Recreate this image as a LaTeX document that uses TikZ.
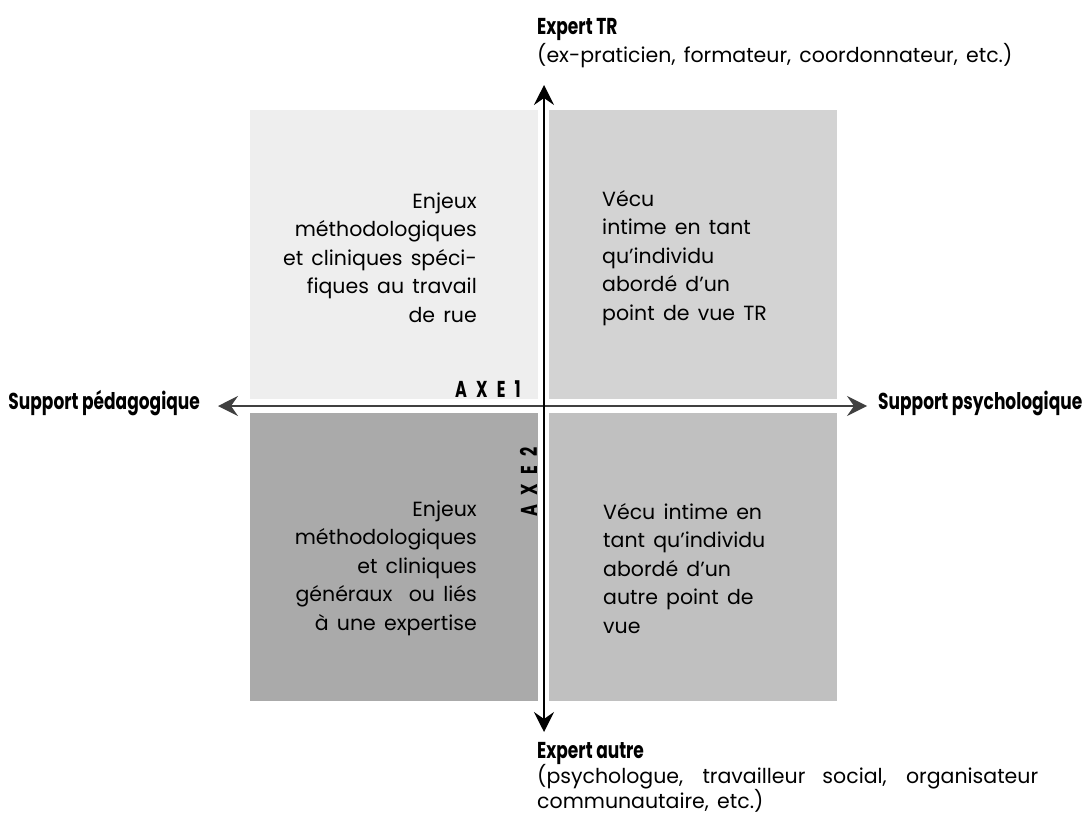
\documentclass[tikz,border=0pt]{standalone}
\usepackage{fontspec}
\setmainfont{Poppins}[WordSpace=1.5]
\newfontfamily\headfont{Poppins}[FakeStretch=0.74]
\newfontfamily\axefont{Poppins}[FakeStretch=0.7,LetterSpace=40]
\usetikzlibrary{arrows.meta}
\definecolor{paleTL}{RGB}{238,238,238}
\definecolor{greyTR}{RGB}{211,211,211}
\definecolor{greyBL}{RGB}{170,170,170}
\definecolor{greyBR}{RGB}{192,192,192}

\begin{document}
\begin{tikzpicture}[x=1pt,y=-1pt,
  quad/.style={rectangle,minimum width=288pt,minimum height=288pt,inner sep=0pt},
  txt/.style={font=\fontsize{20.5}{28.5}\selectfont,inner sep=0pt},
  head/.style={font=\headfont\bfseries\fontsize{23}{27}\selectfont,inner sep=0pt},
  axe/.style={font=\axefont\bfseries\fontsize{23}{27}\selectfont,inner sep=0pt},
  axis/.style={line width=1.4pt,{Stealth[length=20pt,width=20pt,inset=7pt]}-{Stealth[length=20pt,width=20pt,inset=7pt]}}]
\useasboundingbox (0,0) rectangle (1083,824);

% quadrants
\node[quad,fill=paleTL] (tl) at (394,254.5) {};
\node[quad,fill=greyTR] (tr) at (692.5,254.5) {};
\node[quad,fill=greyBL] (bl) at (394,556.5) {};
\node[quad,fill=greyBR] (br) at (692.5,556.5) {};

\node[txt,align=right,anchor=base east] (tltext) at (477,322) {Enjeux\\méthodologiques\\et cliniques spéci-\\fiques au travail\\de rue};
\node[txt,align=left,anchor=base west] (trtext) at (602,320) {Vécu\\intime en tant\\qu’individu\\abordé d’un\\point de vue TR};
\node[txt,align=right,anchor=base east] (bltext) at (477,630) {Enjeux\\méthodologiques\\et cliniques\\généraux~ ou liés\\à une expertise};
\node[txt,align=left,anchor=base west] (brtext) at (603,633) {Vécu intime en\\tant qu’individu\\abordé d’un\\autre point de\\vue};

% axes
\coordinate (N) at (544,85);
\coordinate (S) at (544,732);
\coordinate (W) at (218,406);
\coordinate (E) at (867,406);
\draw[axis,draw=black!75] (W) -- (E);
\draw[axis] (S) -- (N);

\node[axe,anchor=base east] (axe1) at (521,397) {AXE1};
\node[axe,rotate=90,anchor=base east] (axe2) at (537,447) {AXE2};

% labels
\node[head,anchor=base west] (trlabel) at (537,35) {Expert TR};
\node[txt,anchor=base west] (trnote) at (537,63) {(ex-praticien, formateur, coordonnateur, etc.)};
\node[head,anchor=base west] (autrelabel) at (537,758) {Expert autre};
\node[txt,font=\fontsize{20.5}{22}\selectfont,text width=501pt,align=justify,anchor=base west] (autrenote) at (537,783) {(psychologue, travailleur social, organisateur communautaire, etc.)};
\node[head,anchor=base east] (pedalabel) at (200,409) {Support pédagogique};
\node[head,anchor=base west] (psylabel) at (878,409) {Support psychologique};
\end{tikzpicture}
\end{document}
